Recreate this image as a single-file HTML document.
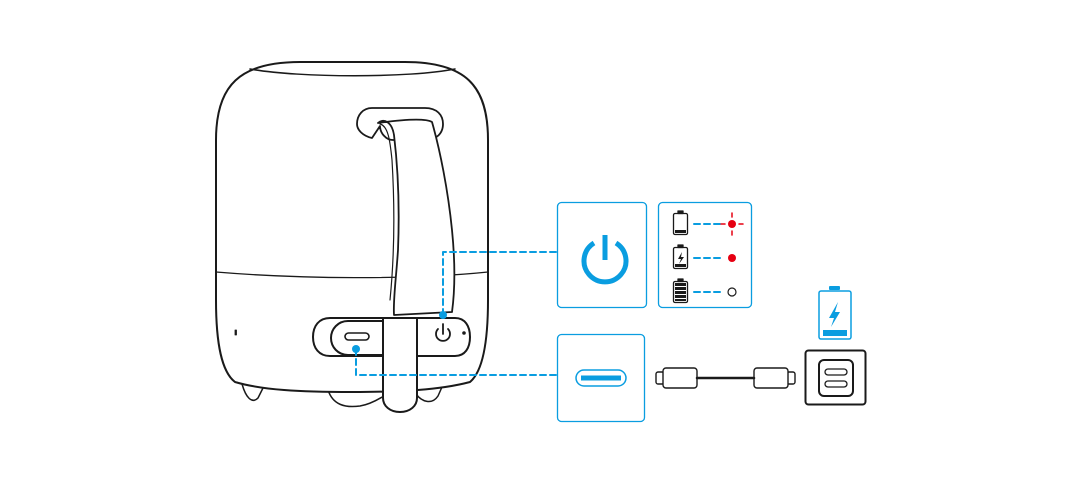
<!DOCTYPE html>
<html><head><style>html,body{margin:0;padding:0;background:#fff}svg{display:block}</style></head>
<body>
<svg width="1090" height="487" viewBox="0 0 1090 487" xmlns="http://www.w3.org/2000/svg" fill="none" stroke-linecap="round" stroke-linejoin="round">
<g stroke="#1a1a1a" stroke-width="2">
<!-- feet -->
<path d="M242 384 C246 398 252 404 258 398 L263 388" stroke-width="1.5"/>
<path d="M328 390 C333 405 345 408 360 406 C372 404 380 398 384 396" stroke-width="1.5"/>
<path d="M416 394 C422 402 432 405 438 396 L442 387" stroke-width="1.5"/>
<!-- body -->
<path d="M216 140 C216 85 240 62 300 62 L405 62 C465 62 488 85 488 140 L488 300 C488 345 482 372 470 382 C440 390 400 392 352 392 C300 392 262 390 235 382 C222 372 216 345 216 300 Z" fill="#fff"/>
<path d="M250 69 C300 78 410 78 455 69" stroke-width="1.5"/>
<path d="M216 272 C300 279 410 280 488 272" stroke-width="1.3"/>
<!-- handle loop -->
<path d="M372 108 L425 108 C437 108 443 115 443 124 C443 133 437 140 425 140 L393 140 C386 140 380 133 380 126 L372 138 C363 136 357 130 357 124 C357 115 363 108 372 108 Z" fill="#fff" stroke-width="1.8"/>
<!-- strap -->
<path d="M378 123 C384 118 392 122 394 135 C397 160 400 200 398 250 C396 280 393 300 394 315 L452 312 C455 290 455 260 452 230 C448 190 440 150 432 122 C425 118 400 120 378 123 Z" fill="#fff" stroke-width="1.8"/>
<path d="M380 124 C388 126 390 140 392 160 C395 210 394 260 390 300" stroke-width="1.2"/>
<!-- button panel -->
<path d="M330 318 L455 318 C465 318 470 326 470 337 C470 348 465 356 455 356 L330 356 C319 356 313 348 313 337 C313 326 319 318 330 318 Z" fill="#fff"/>
<path d="M348 321 L383 321 L383 355 L348 355 C338 355 331 347 331 338 C331 329 338 321 348 321 Z" fill="#fff"/>
<rect x="345" y="333" width="24" height="7" rx="3.5" stroke-width="1.6"/>
<path d="M383 318 L417 318 L417 398 C417 406 410 412 400 412 C390 412 383 406 383 398 Z" fill="#fff"/>
<path d="M438 329 A7 7 0 1 0 448 329" stroke-width="1.8"/>
<line x1="443" y1="324" x2="443" y2="334" stroke-width="1.8"/>
<circle cx="464" cy="333" r="0.8" fill="#1a1a1a"/>
<rect x="235" y="330" width="1.5" height="5" fill="#1a1a1a" stroke-width="0.8"/>
</g>
<!-- dashed connectors -->
<g stroke="#0a9de0" stroke-width="2" stroke-dasharray="6 4">
<path d="M443 315 L443 252 L557 252"/>
<path d="M356 349 L356 375 L557 375"/>
</g>
<circle cx="443" cy="315" r="4" fill="#0a9de0"/>
<circle cx="356" cy="349" r="4" fill="#0a9de0"/>
<!-- power box -->
<rect x="557.5" y="202.5" width="89" height="105" rx="4" stroke="#0a9de0" stroke-width="1.3"/>
<path d="M594 243 A21 21 0 1 0 616 243" stroke="#0a9de0" stroke-width="5" stroke-linecap="butt"/>
<line x1="605" y1="235" x2="605" y2="260" stroke="#0a9de0" stroke-width="5" stroke-linecap="butt"/>
<!-- indicator box -->
<rect x="658.5" y="202.5" width="93" height="105" rx="4" stroke="#0a9de0" stroke-width="1.3"/>
<g stroke="#1a1a1a" stroke-width="1.3" fill="#fff">
<rect x="673.5" y="213.5" width="14" height="21" rx="1.5"/><rect x="678" y="211" width="5" height="2.5" fill="#1a1a1a"/>
<rect x="673.5" y="247.5" width="14" height="21" rx="1.5"/><rect x="678" y="245" width="5" height="2.5" fill="#1a1a1a"/>
<rect x="673.5" y="281.5" width="14" height="21" rx="1.5"/><rect x="678" y="279" width="5" height="2.5" fill="#1a1a1a"/>
</g>
<rect x="675" y="230" width="11" height="3" fill="#1a1a1a"/>
<rect x="675" y="264" width="11" height="3" fill="#1a1a1a"/>
<path d="M682 252 L678 259 L681 259 L679 264 L684 257 L681 257 Z" fill="#1a1a1a"/>
<g fill="#1a1a1a"><rect x="675" y="283" width="11" height="3"/><rect x="675" y="287" width="11" height="3"/><rect x="675" y="291" width="11" height="3"/><rect x="675" y="295" width="11" height="3"/><rect x="675" y="299" width="11" height="2"/></g>
<g stroke="#0a9de0" stroke-width="2" stroke-dasharray="6 4">
<line x1="694" y1="224" x2="720" y2="224"/><line x1="694" y1="258" x2="720" y2="258"/><line x1="694" y1="292" x2="720" y2="292"/>
</g>
<circle cx="732" cy="224" r="4" fill="#e60012"/>
<g stroke="#e60012" stroke-width="1.5"><line x1="732" y1="213" x2="732" y2="217"/><line x1="732" y1="231" x2="732" y2="235"/><line x1="721" y1="224" x2="725" y2="224"/><line x1="739" y1="224" x2="743" y2="224"/></g>
<circle cx="732" cy="258" r="4" fill="#e60012"/>
<circle cx="732" cy="292" r="4" stroke="#1a1a1a" stroke-width="1.2"/>
<!-- usb box -->
<rect x="557.5" y="334.5" width="87" height="87" rx="4" stroke="#0a9de0" stroke-width="1.3"/>
<rect x="576" y="370" width="50" height="16" rx="8" stroke="#0a9de0" stroke-width="1.5"/>
<rect x="581" y="375.5" width="40" height="5" fill="#0a9de0"/>
<!-- cable -->
<g stroke="#1a1a1a" stroke-width="1.4" fill="#fff">
<rect x="656" y="372" width="8" height="12" rx="2"/>
<rect x="663" y="368" width="34" height="20" rx="3"/>
<rect x="787" y="372" width="8" height="12" rx="2"/>
<rect x="754" y="368" width="34" height="20" rx="3"/>
</g>
<line x1="697" y1="378" x2="754" y2="378" stroke="#1a1a1a" stroke-width="2.5"/>
<!-- battery -->
<rect x="829" y="286" width="11" height="4" rx="1" fill="#0a9de0"/>
<rect x="819" y="291" width="32" height="48" rx="2" stroke="#0a9de0" stroke-width="1.5"/>
<path d="M838 302 L829 318 L834 318 L831 327 L840 312 L835 312 Z" fill="#0a9de0"/>
<rect x="823" y="330" width="24" height="6" fill="#0a9de0"/>
<!-- charger -->
<rect x="805.5" y="350.5" width="60" height="54" rx="3" stroke="#1a1a1a" stroke-width="2"/>
<rect x="819" y="360" width="34" height="36" rx="5" stroke="#1a1a1a" stroke-width="2"/>
<rect x="825" y="369" width="22" height="6" rx="3" stroke="#1a1a1a" stroke-width="1.3"/>
<rect x="825" y="381" width="22" height="6" rx="3" stroke="#1a1a1a" stroke-width="1.3"/>
</svg>
</body></html>
